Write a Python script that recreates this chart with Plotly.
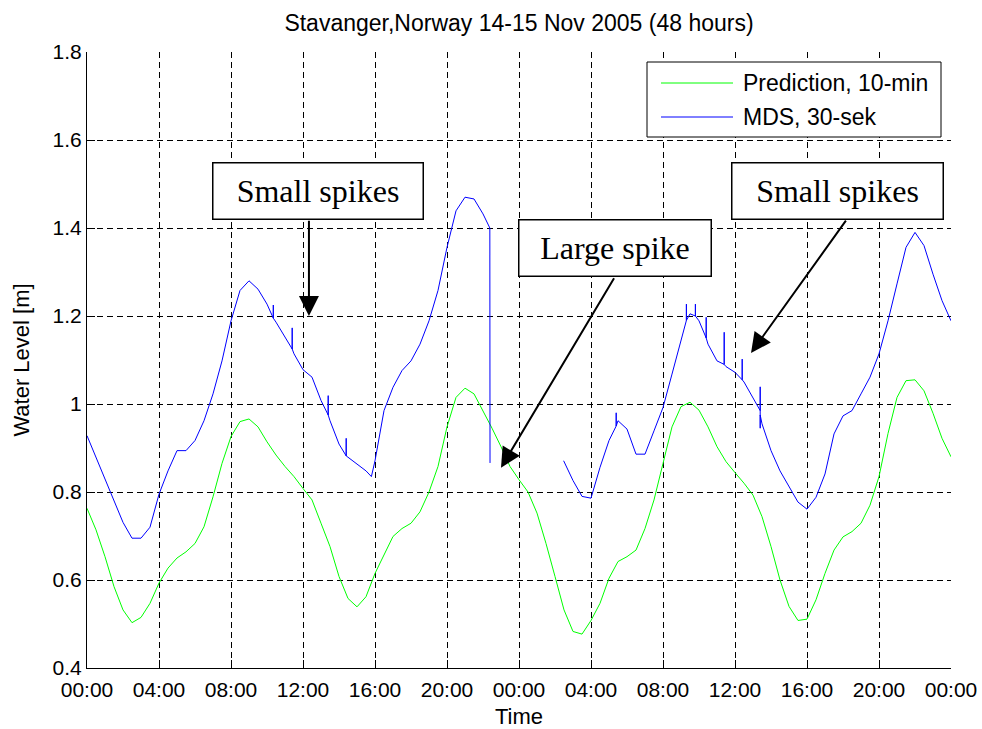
import plotly.graph_objects as go

# ---------------- data ----------------
title_text = "Stavanger,Norway 14-15 Nov 2005 (48 hours)"

# Prediction, 10-min (sampled every half hour, hours since 14 Nov 00:00)
pred_hours = [i * 0.5 for i in range(97)]
pred_level = [
    0.763, 0.714, 0.653, 0.585, 0.532, 0.503, 0.515, 0.547, 0.593, 0.627,
    0.650, 0.664, 0.683, 0.721, 0.789, 0.865, 0.926, 0.960, 0.966, 0.948,
    0.914, 0.884, 0.858, 0.835, 0.808, 0.782, 0.729, 0.676, 0.608, 0.558,
    0.539, 0.562, 0.615, 0.657, 0.699, 0.717, 0.729, 0.755, 0.800, 0.858,
    0.948, 1.015, 1.036, 1.023, 0.985, 0.945, 0.903, 0.858, 0.828, 0.800,
    0.752, 0.683, 0.608, 0.532, 0.483, 0.477, 0.508, 0.547, 0.604, 0.642,
    0.653, 0.668, 0.717, 0.782, 0.865, 0.948, 0.994, 1.004, 0.986, 0.948,
    0.903, 0.869, 0.844, 0.820, 0.793, 0.744, 0.676, 0.600, 0.540, 0.508,
    0.511, 0.555, 0.615, 0.668, 0.698, 0.710, 0.729, 0.770, 0.835, 0.933,
    1.015, 1.053, 1.055, 1.030, 0.979, 0.922, 0.880,
]

# MDS, 30-sek (gap = missing data; repeated times = spikes)
mds_hours = [
    0.0, 0.5, 1.0, 1.5, 2.0, 2.5, 3.0, 3.5, 4.0, 4.5, 5.0, 5.5, 6.0, 6.5,
    7.0, 7.5, 8.0, 8.5, 9.0, 9.5, 10.0, 10.35, 10.35, 10.35, 10.5, 11.0,
    11.4, 11.4, 11.4, 11.5, 12.0, 12.5, 13.0, 13.4, 13.4, 13.4, 13.5, 14.0,
    14.4, 14.4, 14.4, 14.5, 15.0, 15.5, 15.8, 16.0, 16.5, 17.0, 17.5, 18.0,
    18.5, 19.0, 19.5, 20.0, 20.5, 21.0, 21.5, 22.0, 22.38, 22.39,
    24.0,
    26.48, 27.0, 27.5, 28.0, 28.5, 29.0, 29.4, 29.4, 29.4, 29.5, 30.0,
    30.5, 31.0, 31.5, 32.0, 32.5, 33.0, 33.3, 33.3, 33.3, 33.5, 33.8, 33.8,
    33.8, 34.0, 34.4, 34.4, 34.4, 34.5, 35.0, 35.4, 35.4, 35.4, 35.5, 36.0,
    36.4, 36.4, 36.4, 36.5, 37.0, 37.4, 37.4, 37.4, 37.4, 37.5, 38.0, 38.5,
    39.0, 39.5, 40.0, 40.5, 41.0, 41.5, 42.0, 42.5, 43.0, 43.5, 44.0, 44.5,
    45.0, 45.5, 46.0, 46.5, 47.0, 47.5, 48.0,
]
mds_level = [
    0.928, 0.879, 0.826, 0.777, 0.731, 0.695, 0.695, 0.720, 0.795, 0.848,
    0.894, 0.894, 0.917, 0.962, 1.023, 1.098, 1.189, 1.258, 1.280, 1.261,
    1.227, 1.195, 1.225, 1.195, 1.186, 1.152, 1.125, 1.173, 1.125, 1.114,
    1.078, 1.061, 1.008, 0.975, 1.019, 0.975, 0.962, 0.909, 0.882, 0.922,
    0.882, 0.879, 0.864, 0.848, 0.835, 0.871, 0.985, 1.038, 1.076, 1.098,
    1.136, 1.189, 1.258, 1.356, 1.439, 1.470, 1.466, 1.432, 1.400, 0.866,
    None,
    0.871, 0.826, 0.790, 0.786, 0.856, 0.917, 0.950, 0.980, 0.950, 0.962,
    0.943, 0.886, 0.886, 0.939, 0.992, 1.068, 1.144, 1.190, 1.227, 1.190,
    1.205, 1.200, 1.227, 1.200, 1.189, 1.150, 1.197, 1.150, 1.136, 1.098,
    1.090, 1.163, 1.090, 1.085, 1.072, 1.055, 1.102, 1.055, 1.050, 1.015,
    0.985, 1.039, 0.945, 0.975, 0.955, 0.894, 0.848, 0.811, 0.777, 0.761,
    0.788, 0.841, 0.932, 0.973, 0.985, 1.023, 1.061, 1.114, 1.189, 1.273,
    1.356, 1.390, 1.360, 1.295, 1.235, 1.189,
]

x_tick_vals = [0, 4, 8, 12, 16, 20, 24, 28, 32, 36, 40, 44, 48]
x_tick_text = ["00:00", "04:00", "08:00", "12:00", "16:00", "20:00", "00:00",
               "04:00", "08:00", "12:00", "16:00", "20:00", "00:00"]
y_tick_vals = [0.4, 0.6, 0.8, 1.0, 1.2, 1.4, 1.6, 1.8]
y_tick_text = ["0.4", "0.6", "0.8", "1", "1.2", "1.4", "1.6", "1.8"]

series_names = ["Prediction, 10-min", "MDS, 30-sek"]
series_colors = ["#00ff00", "#0000ff"]

# ---------------- figure ----------------
SANS = "Liberation Sans, Arial, Helvetica, sans-serif"
SERIF = "Liberation Serif, Times New Roman, serif"

fig = go.Figure()
fig.add_trace(go.Scatter(x=pred_hours, y=pred_level, mode="lines",
                         name=series_names[0], showlegend=False,
                         line=dict(color=series_colors[0], width=1)))
fig.add_trace(go.Scatter(x=mds_hours, y=mds_level, mode="lines",
                         name=series_names[1], showlegend=False,
                         connectgaps=False,
                         line=dict(color=series_colors[1], width=1)))

axis_common = dict(
    showline=True, linecolor="black", linewidth=1, automargin=False,
    ticks="inside", ticklen=8, tickcolor="black",
    showgrid=True, gridcolor="black", gridwidth=1, griddash="6px,4px",
    zeroline=False, tickfont=dict(family=SANS, size=21, color="black"),
)

fig.update_layout(
    width=982, height=729,
    margin=dict(l=87, r=31, t=52, b=61, autoexpand=False),
    paper_bgcolor="white", plot_bgcolor="white",
    title=dict(text=title_text, x=0.5, xref="paper", xanchor="center",
               y=1 - 23 / 729, yref="container", yanchor="middle",
               font=dict(family=SANS, size=23, color="black"),
               automargin=False),
    xaxis=dict(range=[0, 48], tickmode="array", tickvals=x_tick_vals,
               ticktext=x_tick_text, ticklabelstandoff=3,
               title=dict(text="Time", standoff=8,
                          font=dict(family=SANS, size=22, color="black")),
               **axis_common),
    yaxis=dict(range=[0.4, 1.8], tickmode="array", tickvals=y_tick_vals,
               ticktext=y_tick_text,
               title=dict(text="Water Level [m]", standoff=16,
                          font=dict(family=SANS, size=22, color="black")),
               **axis_common),
    showlegend=False,
)

# legend (drawn as in the MATLAB figure: box, long line samples, labels)
def px_x(p):
    return (p - 87) / 864.0

def px_y(p):
    return (668 - p) / 616.0

fig.add_shape(type="rect", xref="paper", yref="paper",
              x0=px_x(647), x1=px_x(941), y0=px_y(137), y1=px_y(62),
              line=dict(color="black", width=1), fillcolor="white", layer="above")
for i, (nm, col) in enumerate(zip(series_names, series_colors)):
    yy = px_y(83 + 34 * i)
    fig.add_shape(type="line", xref="paper", yref="paper",
                  x0=px_x(661), x1=px_x(733), y0=yy, y1=yy,
                  line=dict(color=col, width=1), layer="above")
    fig.add_annotation(x=px_x(741), y=yy, xref="paper", yref="paper",
                       text=nm, showarrow=False, xanchor="left", yanchor="middle",
                       font=dict(family=SANS, size=23, color="black"))

# text boxes
boxes = [
    ("Small spikes", 12.83, 1.485, 209),
    ("Large spike", 29.36, 1.354, 191),
    ("Small spikes", 41.67, 1.485, 210),
]
for txt, bx, by, bw in boxes:
    fig.add_annotation(x=bx, y=by, xref="x", yref="y", text=txt,
                       showarrow=False, font=dict(family=SERIF, size=32, color="black"),
                       bgcolor="white", bordercolor="black", borderwidth=1.5,
                       borderpad=0, width=bw, height=55, align="center",
                       valign="middle")

# arrows (tail -> tip)
arrows = [
    (12.33, 1.42, 12.33, 1.2),
    (29.33, 1.289, 23.0, 0.855),
    (42.22, 1.42, 36.89, 1.116),
]
for tx, ty, hx, hy in arrows:
    fig.add_annotation(x=hx, y=hy, ax=tx, ay=ty, xref="x", yref="y",
                       axref="x", ayref="y", text="", showarrow=True,
                       arrowhead=2, arrowsize=2, arrowwidth=2,
                       arrowcolor="black", standoff=0)

fig.write_html("out.html")
